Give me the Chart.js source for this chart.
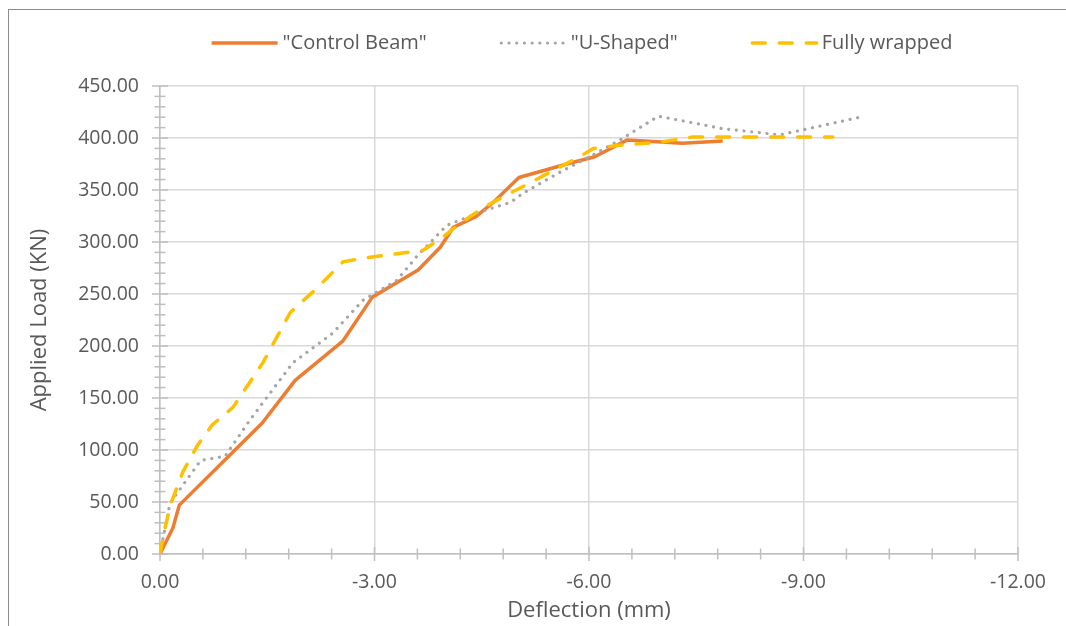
<!DOCTYPE html>
<html>
<head>
<meta charset="utf-8">
<script src="https://cdn.jsdelivr.net/npm/chart.js@4/dist/chart.umd.min.js"></script>
<style>
  html, body { margin: 0; padding: 0; background: #ffffff; }
  canvas { display: block; }
</style>
</head>
<body>
<canvas id="chart" width="1066" height="626"></canvas>
<script>
// Load–deflection curves of the three beams (deflection in mm, load in kN)
const seriesNames = ['"Control Beam"', '"U-Shaped"', 'Fully wrapped'];

const controlDeflection = [0, -0.18, -0.27, -1.43, -1.89, -2.56, -2.97, -3.61, -3.92, -4.10, -4.41, -4.66, -5.02, -5.69, -6.08, -6.53, -7.31, -7.87];
const controlLoad       = [0, 25, 47, 126, 167, 205, 247, 273, 295, 314, 324, 338, 362, 375, 382, 398, 395, 397];

const uShapedDeflection = [0, -0.14, -0.57, -0.91, -1.26, -1.86, -2.41, -2.84, -3.31, -3.59, -4.01, -4.38, -4.57, -4.90, -5.08, -5.59, -6.01, -6.43, -6.97, -7.87, -8.67, -9.79];
const uShapedLoad       = [0, 49, 90, 94, 129, 184, 212, 244, 263, 286, 316, 326, 331, 338, 347, 367, 382, 398, 421, 409, 403, 420];

const wrappedDeflection = [0, -0.07, -0.15, -0.32, -0.53, -0.73, -1.02, -1.44, -1.82, -2.20, -2.56, -2.80, -3.68, -3.96, -4.20, -4.52, -4.90, -5.45, -5.87, -6.06, -6.43, -6.99, -7.45, -9.41];
const wrappedLoad       = [0, 25, 48, 79, 105, 124, 141, 184, 232, 256, 281, 284, 292, 305, 318, 333, 347, 367, 382, 390, 393, 396, 401, 401];

// Axis ranges and tick spacing
const xRange = [-12, 0];
const xMajorStep = 3;
const xMinorStep = 0.6;
const yRange = [0, 450];
const yMajorStep = 50;
const yMinorStep = 10;

const FONT = '"Open Sans", sans-serif';
const TEXT = '#595959';
const GRID = '#d9d9d9';
const AXIS = '#bfbfbf';

const toPoints = (xs, ys) => xs.map((x, i) => ({ x: x, y: ys[i] }));
const isMajorX = v => Math.round(v * 10) % Math.round(xMajorStep * 10) === 0;
const isMajorY = v => Math.round(v) % yMajorStep === 0;

// Cross-style tick marks straddling both axis lines
const crossTicks = {
  id: 'crossTicks',
  beforeDatasetsDraw(chart) {
    const { ctx, chartArea, scales } = chart;
    ctx.save();
    ctx.strokeStyle = AXIS;
    ctx.lineWidth = 1.5;
    scales.x.ticks.forEach(t => {
      const px = scales.x.getPixelForValue(t.value);
      const h = isMajorX(t.value) ? 7 : 5.5;
      ctx.beginPath();
      ctx.moveTo(px, chartArea.bottom - h);
      ctx.lineTo(px, chartArea.bottom + h);
      ctx.stroke();
    });
    scales.y.ticks.forEach(t => {
      const py = scales.y.getPixelForValue(t.value);
      const w = isMajorY(t.value) ? 8 : 5.5;
      ctx.beginPath();
      ctx.moveTo(chartArea.left - w, py);
      ctx.lineTo(chartArea.left + w, py);
      ctx.stroke();
    });
    ctx.restore();
  }
};

// Series key along the top plus the outer frame
const seriesKey = {
  id: 'seriesKey',
  afterDraw(chart) {
    const ctx = chart.ctx;
    const sets = chart.data.datasets;
    ctx.save();
    ctx.strokeStyle = '#8c8c8c';
    ctx.lineWidth = 1;
    ctx.strokeRect(8.5, 9.5, 2000, 2000);

    ctx.font = '20px ' + FONT;
    const sample = 66, gapText = 5, gapItem = 73;
    const widths = sets.map(d => ctx.measureText(d.label).width);
    const total = widths.reduce((a, w) => a + sample + gapText + w, 0) + gapItem * (sets.length - 1);
    let x = 582 - total / 2;
    const y = 43;
    sets.forEach((d, i) => {
      ctx.strokeStyle = d.borderColor;
      ctx.lineWidth = d.borderWidth;
      ctx.lineCap = d.borderCapStyle || 'butt';
      ctx.setLineDash(d.borderDash || []);
      ctx.beginPath();
      ctx.moveTo(x + (d.borderCapStyle === 'round' ? 1.5 : 0), y);
      ctx.lineTo(x + sample, y);
      ctx.stroke();
      ctx.setLineDash([]);
      ctx.fillStyle = TEXT;
      ctx.textAlign = 'left';
      ctx.textBaseline = 'middle';
      ctx.fillText(d.label, x + sample + gapText, y);
      x += sample + gapText + widths[i] + gapItem;
    });
    ctx.restore();
  }
};

new Chart(document.getElementById('chart'), {
  type: 'line',
  data: {
    datasets: [
      {
        label: seriesNames[0],
        data: toPoints(controlDeflection, controlLoad),
        borderColor: '#ED7D31',
        borderWidth: 3.5,
        borderJoinStyle: 'round',
        order: 2
      },
      {
        label: seriesNames[1],
        data: toPoints(uShapedDeflection, uShapedLoad),
        borderColor: '#A5A5A5',
        borderWidth: 3.2,
        borderDash: [0.01, 7.7],
        borderCapStyle: 'round',
        order: 1
      },
      {
        label: seriesNames[2],
        data: toPoints(wrappedDeflection, wrappedLoad),
        borderColor: '#FFC000',
        borderWidth: 3.5,
        borderDash: [13, 14],
        borderCapStyle: 'round',
        order: 0
      }
    ]
  },
  options: {
    responsive: false,
    animation: false,
    devicePixelRatio: 1,
    elements: {
      point: { radius: 0, hoverRadius: 0 },
      line: { tension: 0, fill: false }
    },
    layout: { padding: { left: 8, right: 48, top: 86, bottom: 0 } },
    plugins: {
      legend: { display: false },
      tooltip: { enabled: false }
    },
    scales: {
      x: {
        type: 'linear',
        min: xRange[0],
        max: xRange[1],
        reverse: true,
        border: { color: AXIS, width: 1.5 },
        grid: {
          drawTicks: false,
          lineWidth: 1.5,
          color: c => (c.tick && isMajorX(c.tick.value)) ? GRID : 'rgba(0,0,0,0)'
        },
        ticks: {
          stepSize: xMinorStep,
          autoSkip: false,
          maxRotation: 0,
          padding: 17,
          color: TEXT,
          font: { family: FONT, size: 19.5 },
          callback: v => isMajorX(v) ? Number(v).toFixed(2) : ''
        },
        title: {
          display: true,
          text: 'Deflection (mm)',
          color: TEXT,
          font: { family: FONT, size: 22 },
          padding: { top: 0, bottom: 2 }
        },
        afterFit: s => { s.height = 72; }
      },
      y: {
        type: 'linear',
        min: yRange[0],
        max: yRange[1],
        border: { color: AXIS, width: 1.5 },
        grid: {
          drawTicks: false,
          lineWidth: 1.5,
          color: c => (c.tick && isMajorY(c.tick.value)) ? GRID : 'rgba(0,0,0,0)'
        },
        ticks: {
          stepSize: yMinorStep,
          autoSkip: false,
          padding: 21,
          color: TEXT,
          font: { family: FONT, size: 19.5 },
          callback: v => isMajorY(v) ? Number(v).toFixed(2) : ''
        },
        title: {
          display: true,
          text: 'Applied Load (KN)',
          color: TEXT,
          font: { family: FONT, size: 22 },
          padding: { top: 19, bottom: 0 }
        },
        afterFit: s => { s.width = 152; }
      }
    }
  },
  plugins: [crossTicks, seriesKey]
});
</script>
</body>
</html>
